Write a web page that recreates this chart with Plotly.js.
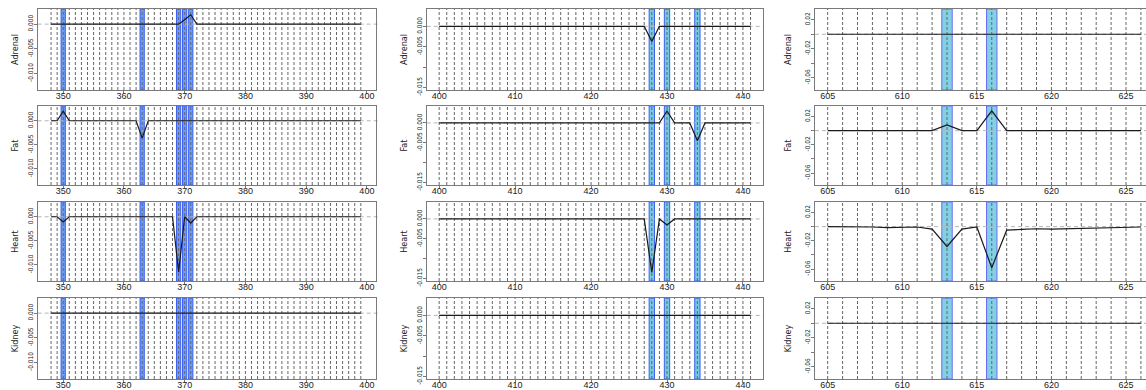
<!DOCTYPE html>
<html><head><meta charset="utf-8">
<script src="https://cdn.plot.ly/plotly-3.0.1.min.js"></script>
<style>html,body{margin:0;padding:0;background:#fff;overflow:hidden}</style>
</head><body><div id="chart" style="width:1146px;height:390px"></div>
<script>
const tissues = ['Adrenal', 'Fat', 'Heart', 'Kidney'];

// ---- region 1 ----
const pos1 = [348,349,350,351,352,353,354,355,356,357,358,359,360,361,362,363,364,365,366,367,368,369,370,371,372,373,374,375,376,377,378,379,380,381,382,383,384,385,386,387,388,389,390,391,392,393,394,395,396,397,398,399];
const adrenal1 = [0,0,0,0,0,0,0,0,0,0, 0,0,0,0,0,0,0,0,0,0, 0,0,0.0009,0.0019,0,0,0,0,0,0, 0,0,0,0,0,0,0,0,0,0, 0,0,0,0,0,0,0,0,0,0, 0,0];
const fat1 = [0,0,0.002,0,0,0,0,0,0,0, 0,0,0,0,0,-0.0036,0,0,0,0, 0,0,0,0,0,0,0,0,0,0, 0,0,0,0,0,0,0,0,0,0, 0,0,0,0,0,0,0,0,0,0, 0,0];
const heart1 = [0,0,-0.0011,0,0,0,0,0,0,0, 0,0,0,0,0,0,0,0,0,0, 0,-0.0115,0,-0.0013,0,0,0,0,0,0, 0,0,0,0,0,0,0,0,0,0, 0,0,0,0,0,0,0,0,0,0, 0,0];
const kidney1 = [0,0,0,0,0,0,0,0,0,0, 0,0,0,0,0,0,0,0,0,0, 0,0,0,0,0,0,0,0,0,0, 0,0,0,0,0,0,0,0,0,0, 0,0,0,0,0,0,0,0,0,0, 0,0];
const bands1 = [350, 363, 369, 370, 371];
const xTicks1 = [350, 360, 370, 380, 390, 400];
const yTicks1 = [0, -0.005, -0.010];
const yLabels1 = ['0.000', '-0.005', '-0.010'];

// ---- region 2 ----
const pos2 = [400,401,402,403,404,405,406,407,408,409,410,411,412,413,414,415,416,417,418,419,420,421,422,423,424,425,426,427,428,429,430,431,432,433,434,435,436,437,438,439,440,441];
const adrenal2 = [0,0,0,0,0,0,0,0,0,0, 0,0,0,0,0,0,0,0,0,0, 0,0,0,0,0,0,0,0,-0.0037,0, 0,0,0,0,0,0,0,0,0,0, 0,0];
const fat2 = [0,0,0,0,0,0,0,0,0,0, 0,0,0,0,0,0,0,0,0,0, 0,0,0,0,0,0,0,0,0,0, 0.003,0,0,0,-0.0045,0,0,0,0,0, 0,0];
const heart2 = [0,0,0,0,0,0,0,0,0,0, 0,0,0,0,0,0,0,0,0,0, 0,0,0,0,0,0,0,0,-0.0135,0, -0.0015,0,0,0,0,0,0,0,0,0, 0,0];
const kidney2 = [0,0,0,0,0,0,0,0,0,0, 0,0,0,0,0,0,0,0,0,0, 0,0,0,0,0,0,0,0,0,0, 0,0,0,0,0,0,0,0,0,0, 0,0];
const bands2 = [428, 430, 434];
const xTicks2 = [400, 410, 420, 430, 440];
const yTicks2 = [0, -0.005, -0.010, -0.015];
const yLabels2 = ['0.000', '-0.005', '', '-0.015'];

// ---- region 3 ----
const pos3 = [605,606,607,608,609,610,611,612,613,614,615,616,617,618,619,620,621,622,623,624,625,626];
const adrenal3 = [0,0,0,0,0,0,0,0,0,0,0,0,0,0,0,0,0,0,0,0,0,0];
const fat3 = [0,0,0,0,0,0,0,0,0.008,0,0,0.028,0,0,0,0,0,0,0,0,0,0];
const heart3 = [0,0,-0.0003,-0.0005,-0.0015,-0.0015,-0.0005,-0.0035,-0.028,-0.0035,-0.0005,-0.058,-0.005,-0.004,-0.003,-0.0035,-0.003,-0.002,-0.001,-0.0015,-0.0005,-0.0005];
const kidney3 = [0,0,0,0,0,0,0,0,0,0,0,0,0,0,0,0,0,0,0,0,0,0];
const bands3 = [613, 616];
const xTicks3 = [605, 610, 615, 620, 625];
const yTicks3 = [0.02, 0, -0.02, -0.04, -0.06];
const yLabels3 = ['0.02', '', '-0.02', '', '-0.06'];

// ---- assembly ----
const W = 1146, H = 390;
const NARROW = 'Liberation Sans Narrow, Arial Narrow, DejaVu Sans Condensed, Liberation Sans, sans-serif';
const regions = [
  {pos: pos1, vals: [adrenal1, fat1, heart1, kidney1], bands: bands1, xt: xTicks1, yt: yTicks1, yl: yLabels1,
   px: [37.7, 376], xr: [345.8, 401.5], yr: [-0.01335, 0.00307], fill: '#6a9ef2', edge: '#3c5ff0', mirrorY: true, zx1: 1.012, ts: 6},
  {pos: pos2, vals: [adrenal2, fat2, heart2, kidney2], bands: bands2, xt: xTicks2, yt: yTicks2, yl: yLabels2,
   px: [426.7, 763], xr: [398.36, 442.64], yr: [-0.01566, 0.00427], fill: '#74cade', edge: '#3c5ff0', mirrorY: true, zx1: 1.0, ts: 6},
  {pos: pos3, vals: [adrenal3, fat3, heart3, kidney3], bands: bands3, xt: xTicks3, yt: yTicks3, yl: yLabels3,
   px: [815, 1146], xr: [604.15, 626.34], yr: [-0.0768, 0.0348], fill: '#82d0e6', edge: '#6c6cf0', mirrorY: false, zx1: 1.0, ts: 11}
];
const rowsPx = [[9, 90], [106, 185], [202, 281], [298, 379]];

const traces = [], shapes = [];
const layout = {
  width: W, height: H, margin: {l: 0, r: 0, t: 0, b: 0},
  paper_bgcolor: '#fff', plot_bgcolor: '#fff', showlegend: false,
  font: {family: 'Liberation Sans, Arial, sans-serif', color: '#222'}
};

rowsPx.forEach((rp, r) => {
  regions.forEach((g, c) => {
    const k = r * 3 + c + 1;
    const xa = 'x' + k, ya = 'y' + k;
    layout['xaxis' + k] = {
      domain: [g.px[0] / W, g.px[1] / W], range: g.xr, anchor: ya,
      showline: true, mirror: true, linecolor: '#7a7a7a', linewidth: 1,
      ticks: 'outside', ticklen: 3, tickcolor: '#7a7a7a', tickvals: g.xt,
      tickfont: {size: 9, color: '#222'}, ticklabelstandoff: -6,
      showgrid: false, zeroline: false, fixedrange: true
    };
    layout['yaxis' + k] = {
      domain: [1 - rp[1] / H, 1 - rp[0] / H], range: g.yr, anchor: xa,
      showline: true, mirror: g.mirrorY, linecolor: '#7a7a7a', linewidth: 1,
      ticks: 'outside', ticklen: 3, tickcolor: '#7a7a7a',
      tickvals: g.yt, ticktext: g.yl, tickangle: -90,
      tickfont: {size: 6.5, color: '#222', family: NARROW}, ticklabelstandoff: -2,
      title: {text: tissues[r], font: {size: 9, color: '#222', family: NARROW}, standoff: g.ts},
      showgrid: false, zeroline: false, fixedrange: true
    };
    g.bands.forEach(b => {
      shapes.push({type: 'rect', layer: 'below', xref: xa, yref: ya + ' domain',
        x0: b - 0.35, x1: b + 0.35, y0: 0, y1: 1,
        fillcolor: g.fill, line: {color: g.edge, width: 1}});
    });
    g.pos.forEach(p => {
      shapes.push({type: 'line', layer: 'below', xref: xa, yref: ya + ' domain',
        x0: p, x1: p, y0: 0, y1: 1, line: {color: '#666', width: 1, dash: '3px,2px'}});
    });
    shapes.push({type: 'line', layer: 'below', xref: xa + ' domain', yref: ya,
      x0: 0, x1: g.zx1, y0: 0, y1: 0, line: {color: '#b4b4b4', width: 1, dash: '4px,3px'}});
    traces.push({type: 'scatter', mode: 'lines', x: g.pos, y: g.vals[r], xaxis: xa, yaxis: ya,
      line: {color: '#1a1a1a', width: 1.2}, hoverinfo: 'x+y'});
  });
});
layout.shapes = shapes;

Plotly.newPlot('chart', traces, layout, {displayModeBar: false, staticPlot: true});
</script>
</body></html>
